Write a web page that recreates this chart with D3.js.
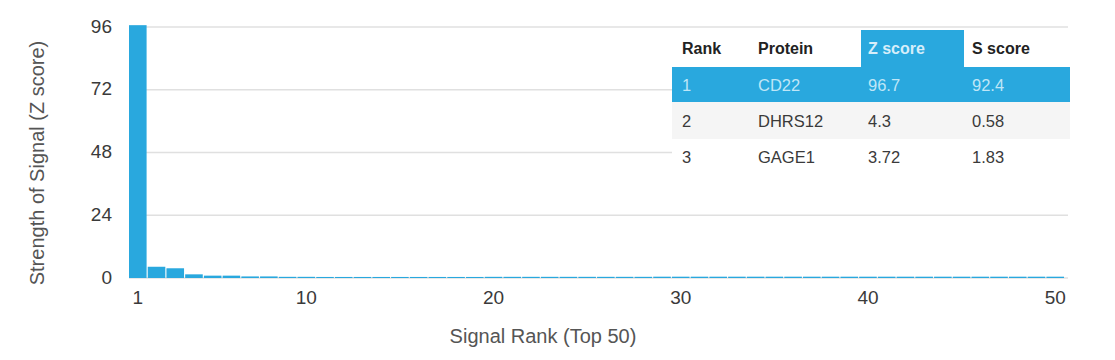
<!DOCTYPE html>
<html>
<head>
<meta charset="utf-8">
<script src="https://cdn.jsdelivr.net/npm/d3@7"></script>
<style>
  body { margin: 0; background: #fff; }
  svg { display: block; font-family: "Liberation Sans", Arial, Helvetica, sans-serif; }
</style>
</head>
<body>
<div id="chart"></div>
<script>
// signal rank 1..50 and z score of each
var ranks = d3.range(1, 51);
var zValues = [96.7, 4.3, 3.72, 1.4, 0.9, 0.9, 0.6, 0.6, 0.45, 0.45,
  0.4, 0.4, 0.4, 0.4, 0.4, 0.4, 0.4, 0.4, 0.4, 0.45,
  0.45, 0.45, 0.45, 0.45, 0.45, 0.45, 0.45, 0.45, 0.5, 0.5,
  0.5, 0.5, 0.5, 0.5, 0.5, 0.5, 0.5, 0.5, 0.5, 0.5,
  0.5, 0.5, 0.5, 0.5, 0.5, 0.5, 0.5, 0.5, 0.5, 0.5];
var xTicks = [1, 10, 20, 30, 40, 50];
var yTicks = [0, 24, 48, 72, 96];

// table in the corner
var tableHeaders = ["Rank", "Protein", "Z score", "S score"];
var tableRanks = ["1", "2", "3"];
var tableProteins = ["CD22", "DHRS12", "GAGE1"];
var tableZ = ["96.7", "4.3", "3.72"];
var tableS = ["92.4", "0.58", "1.83"];

var width = 1115, height = 360;
var blue = "#29a8de";

var svg = d3.select("#chart").append("svg")
  .attr("width", width)
  .attr("height", height);

var x = d3.scaleBand()
  .domain(ranks)
  .range([129, 1064])
  .paddingInner(0.06);

var y = d3.scaleLinear()
  .domain([0, 96])
  .range([278, 27]);

// grid lines
svg.append("g")
  .selectAll("line")
  .data(yTicks)
  .enter()
  .append("line")
  .attr("x1", 129)
  .attr("x2", 1068)
  .attr("y1", function (d) { return y(d); })
  .attr("y2", function (d) { return y(d); })
  .style("stroke", "#e0e0e0")
  .style("stroke-width", 1.5);

// bars
svg.append("g")
  .selectAll("rect")
  .data(zValues)
  .enter()
  .append("rect")
  .attr("x", function (d, i) { return x(ranks[i]); })
  .attr("width", x.bandwidth())
  .attr("y", function (d) { return y(d); })
  .attr("height", function (d) { return y(0) - y(d); })
  .style("fill", blue);

// axes
var yAxis = svg.append("g")
  .attr("transform", "translate(129,-1)")
  .call(d3.axisLeft(y).tickValues(yTicks).tickSize(0).tickPadding(17));

var xAxis = svg.append("g")
  .attr("transform", "translate(0,290)")
  .call(d3.axisBottom(x).tickValues(xTicks).tickSize(0).tickPadding(0));

[xAxis, yAxis].forEach(function (a) {
  a.select(".domain").remove();
  a.selectAll("text")
    .style("font-size", "19px")
    .style("fill", "#3a3a3a")
    .style("font-family", "Liberation Sans, Arial, sans-serif");
});
xAxis.selectAll("text").attr("dy", "0.71em");

// axis titles
svg.append("text")
  .text("Strength of Signal (Z score)")
  .attr("transform", "translate(44,163) rotate(-90)")
  .attr("text-anchor", "middle")
  .style("font-size", "20px")
  .style("fill", "#555");

svg.append("text")
  .text("Signal Rank (Top 50)")
  .attr("x", 543)
  .attr("y", 343)
  .attr("text-anchor", "middle")
  .style("font-size", "20px")
  .style("fill", "#555");

// table
var colX = [682, 758, 868, 972];
var rowTop = [30, 67, 102, 139, 175];
var rowMid = [48, 85, 121, 157];
var table = svg.append("g");

table.append("rect")
  .attr("x", 672).attr("y", rowTop[0])
  .attr("width", 398).attr("height", rowTop[4] - rowTop[0])
  .style("fill", "#fff");

table.append("rect")
  .attr("x", 861).attr("y", rowTop[0])
  .attr("width", 103).attr("height", rowTop[1] - rowTop[0])
  .style("fill", blue);

table.append("rect")
  .attr("x", 672).attr("y", rowTop[1])
  .attr("width", 398).attr("height", rowTop[2] - rowTop[1])
  .style("fill", blue);

table.append("rect")
  .attr("x", 672).attr("y", rowTop[2])
  .attr("width", 398).attr("height", rowTop[3] - rowTop[2])
  .style("fill", "#f5f5f5");

table.selectAll("text.head")
  .data(tableHeaders)
  .enter()
  .append("text")
  .attr("class", "head")
  .text(function (d) { return d; })
  .attr("x", function (d, i) { return colX[i]; })
  .attr("y", rowMid[0])
  .attr("dy", "0.35em")
  .style("font-size", "16px")
  .style("font-weight", "bold")
  .style("fill", function (d, i) { return i == 2 ? "#d6eefa" : "#222"; });

var rows = tableRanks.map(function (r, i) {
  return [r, tableProteins[i], tableZ[i], tableS[i]];
});

rows.forEach(function (row, ri) {
  table.selectAll("text.r" + ri)
    .data(row)
    .enter()
    .append("text")
    .attr("class", "r" + ri)
    .text(function (d) { return d; })
    .attr("x", function (d, i) { return colX[i]; })
    .attr("y", rowMid[ri + 1])
    .attr("dy", "0.35em")
    .style("font-size", "16.5px")
    .style("fill", ri == 0 ? "#bfe6f7" : "#3a3a3a");
});
</script>
</body>
</html>
